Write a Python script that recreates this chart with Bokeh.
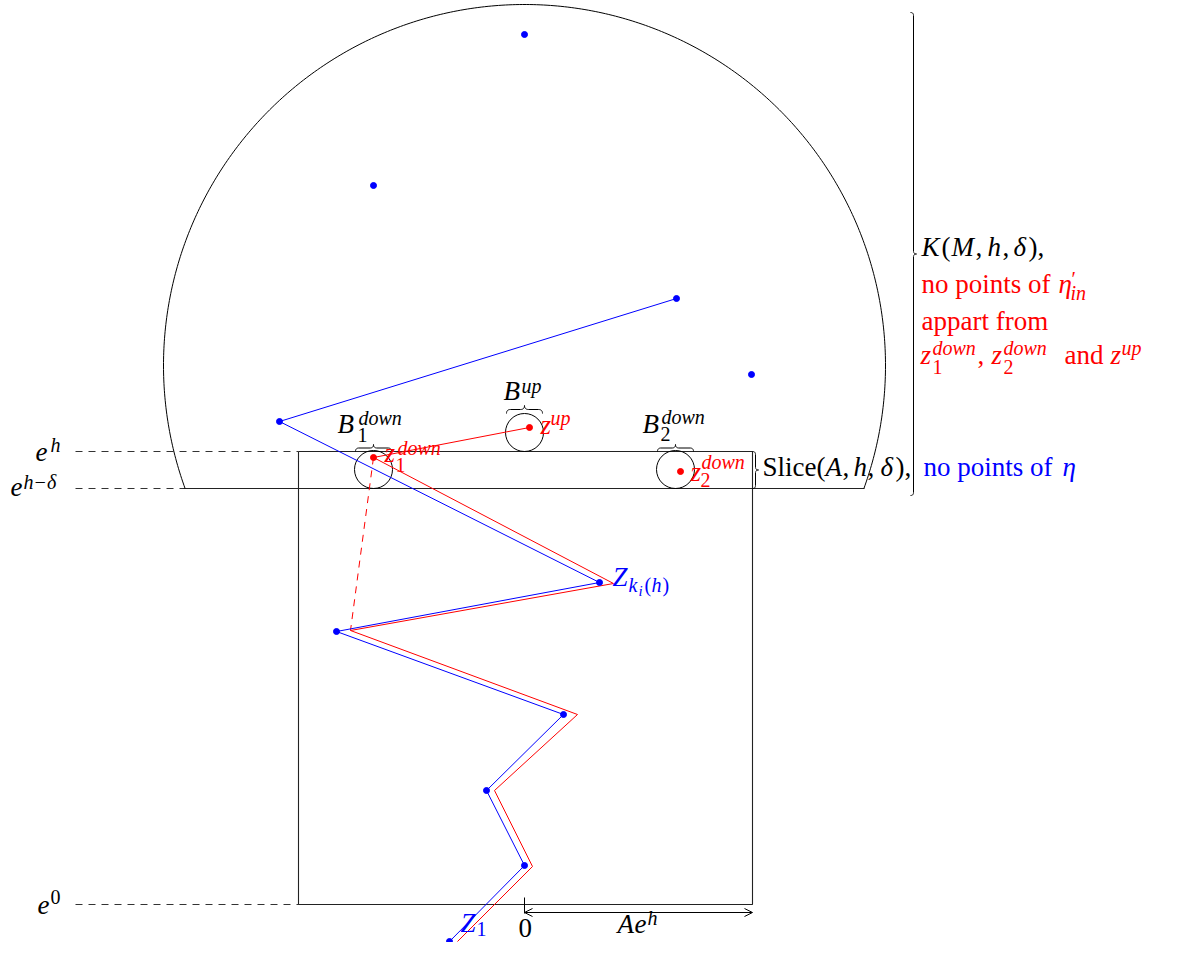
import numpy as np
from bokeh.plotting import figure
from bokeh.models import Range1d, ColumnDataSource, Arrow, OpenHead
from bokeh.core.properties import value
from bokeh.embed import file_html
from bokeh.resources import INLINE

# ---------------- data (image-pixel coordinates, y grows downward) ----------------
# blue path eta (Z_1 ... Z_{k_i(h)} ...)
blue_path_x = [449, 524, 486, 563, 336, 599, 279, 676]
blue_path_y = [941, 865, 790, 714, 631, 582, 421, 298]
# extra blue points of eta inside K
blue_extra_x = [524, 373, 751]
blue_extra_y = [34, 185, 374]
# red path eta'_in
red_path_x = [457, 532, 494, 577, 350, 613, 373, 529]
red_path_y = [941, 866, 790, 714, 630, 583, 457, 427]
red_dash_x = [373, 350]
red_dash_y = [457, 630]
# red points z1_down, z_up, z2_down
red_pts_x = [373, 529, 680]
red_pts_y = [457, 427, 471]
# small balls B1_down, B_up, B2_down
ball_x = [373, 524, 675]
ball_y = [469, 432, 469]
ball_r = 19
# big half disc K(M,h,delta)
arc_cx, arc_cy, arc_r = 524, 365, 361
arc_cut_y = 488
# box [-Ae^h, Ae^h] x [e^0, e^h]
box_x = [298, 752, 752, 298, 298]
box_y = [451, 451, 904, 904, 451]
slice_x = [183, 864]
slice_y = [488, 488]
dash_levels = [451, 488, 904]
dash_x = [75, 298]
tick_x = [524, 524]
tick_y = [897, 913]
arrow_x = [524, 752]
arrow_y = [912, 912]

# braces: (x0, y0, x1, y1, amplitude, normal_x, normal_y)
braces = [
    (355, 451, 391, 451, 7, 0, -1),
    (506, 413, 542, 413, 8, 0, -1),
    (657, 451, 693, 451, 7, 0, -1),
    (752, 451, 752, 488, 6, 1, 0),
    (910, 12, 910, 495, 6, 1, 0),
]

MAIN, SUP, SS = 27, 20, 15
BLACK, RED, BLUE = "#000000", "#ff0000", "#0000ff"
I, N = "italic", "normal"
# text pieces: (text, x-left, baseline-y, size, colour, style)
pieces = [
    ("e", 35, 462, MAIN, BLACK, I), ("h", 50, 452, SUP, BLACK, I),
    ("e", 10, 497, MAIN, BLACK, I), ("h\u2212\u03b4", 23, 489, SUP, BLACK, I),
    ("e", 37, 915, MAIN, BLACK, I), ("0", 50, 904, SUP, BLACK, N),
    ("B", 337, 434, MAIN, BLACK, I), ("down", 358, 425, SUP, BLACK, I), ("1", 357, 442, SUP, BLACK, N),
    ("B", 503, 401, MAIN, BLACK, I), ("up", 521, 393, SUP, BLACK, I),
    ("B", 642, 434, MAIN, BLACK, I), ("down", 661, 424, SUP, BLACK, I), ("2", 660, 441, SUP, BLACK, N),
    ("z", 384, 463, MAIN, RED, I), ("down", 397, 455, SUP, RED, I), ("1", 395, 472, SUP, RED, N),
    ("z", 540, 435, MAIN, RED, I), ("up", 550, 425, SUP, RED, I),
    ("z", 690, 482, MAIN, RED, I), ("down", 701, 469, SUP, RED, I), ("2", 700, 487, SUP, RED, N),
    ("Slice(", 762, 477, MAIN, BLACK, N), ("A", 825, 477, MAIN, BLACK, I), (",", 842, 477, MAIN, BLACK, N),
    ("h", 853, 477, MAIN, BLACK, I), (",", 867, 477, MAIN, BLACK, N), ("\u03b4", 880, 477, MAIN, BLACK, I),
    ("),", 895, 477, MAIN, BLACK, N),
    ("no points of", 923, 477, MAIN, BLUE, N), ("\u03b7", 1062, 477, MAIN, BLUE, I),
    ("K", 921, 257, MAIN, BLACK, I), ("(", 941, 257, MAIN, BLACK, N), ("M", 951, 257, MAIN, BLACK, I),
    (",", 975, 257, MAIN, BLACK, N), ("h", 987, 257, MAIN, BLACK, I), (",", 1002, 257, MAIN, BLACK, N),
    ("\u03b4", 1013, 257, MAIN, BLACK, I), ("),", 1028, 257, MAIN, BLACK, N),
    ("no points of", 921, 294, MAIN, RED, N), ("\u03b7", 1058, 294, MAIN, RED, I),
    ("\u2032", 1071, 286, SUP, RED, N), ("in", 1070, 300, SUP, RED, I),
    ("appart from", 921, 331, MAIN, RED, N),
    ("z", 920, 365, MAIN, RED, I), ("down", 932, 355, SUP, RED, I), ("1", 932, 374, SUP, RED, N),
    (",", 977, 365, MAIN, RED, N),
    ("z", 991, 365, MAIN, RED, I), ("down", 1003, 355, SUP, RED, I), ("2", 1003, 374, SUP, RED, N),
    ("and", 1064, 365, MAIN, RED, N), ("z", 1110, 365, MAIN, RED, I), ("up", 1121, 355, SUP, RED, I),
    ("0", 518, 938, MAIN, BLACK, N),
    ("A", 617, 934, MAIN, BLACK, I), ("e", 634, 934, MAIN, BLACK, I), ("h", 647, 925, SUP, BLACK, I),
    ("Z", 460, 933, MAIN, BLUE, I), ("1", 476, 936, SUP, BLUE, N),
    ("Z", 612, 587, MAIN, BLUE, I), ("k", 628, 592, SUP, BLUE, I), ("i", 638, 596, SS, BLUE, I),
    ("(", 644, 592, SUP, BLUE, N), ("h", 651, 592, SUP, BLUE, I), (")", 662, 592, SUP, BLUE, N),
]
label_text = [q[0] for q in pieces]
label_x = [q[1] for q in pieces]
label_y = [q[2] for q in pieces]
label_size = [q[3] for q in pieces]
label_color = [q[4] for q in pieces]
label_style = [q[5] for q in pieces]

# renderer places the alphabetic baseline about 0.38 em low; compensate
draw_y = [y - 0.38 * s for y, s in zip(label_y, label_size)]
draw_size = ["%dpx" % s for s in label_size]


def brace_points(x0, y0, x1, y1, a, nx, ny, n=14):
    L = np.hypot(x1 - x0, y1 - y0)
    ux, uy = (x1 - x0) / L, (y1 - y0) / L
    t = np.linspace(0, 1, n)

    def quad(p0, p1, p2):
        p0, p1, p2 = map(np.asarray, (p0, p1, p2))
        return ((1 - t)[:, None] ** 2) * p0 + (2 * (1 - t) * t)[:, None] * p1 + (t[:, None] ** 2) * p2

    h = a / 2.0
    segs = [
        quad((0, 0), (0, h), (h, h)),
        quad((L / 2 - h, h), (L / 2, h), (L / 2, a)),
        quad((L / 2, a), (L / 2, h), (L / 2 + h, h)),
        quad((L - h, h), (L, h), (L, 0)),
    ]
    loc = np.vstack(segs)
    X = x0 + loc[:, 0] * ux + loc[:, 1] * nx
    Y = y0 + loc[:, 0] * uy + loc[:, 1] * ny
    return list(X), list(Y)


p = figure(width=1164, height=942, x_range=Range1d(0, 1164), y_range=Range1d(942, 0),
           output_backend="svg", toolbar_location=None, min_border=0,
           x_axis_location=None, y_axis_location=None)
p.grid.visible = False
p.outline_line_color = None
p.background_fill_color = "white"

LINE = "#222222"
# dashed level lines
for yl in dash_levels:
    p.line(dash_x, [yl, yl], line_color="#333333", line_width=1, line_dash="7 6")
# box and slice
p.line(box_x, box_y, line_color=LINE, line_width=1.1)
p.line(slice_x, slice_y, line_color=LINE, line_width=1.1)
# big arc
th0 = np.arcsin(-(arc_cut_y - arc_cy) / arc_r)
th = np.linspace(th0, np.pi - th0, 400)
p.line(list(arc_cx + arc_r * np.cos(th)), list(arc_cy - arc_r * np.sin(th)), line_color="black", line_width=1)
# small balls
p.circle(x=ball_x, y=ball_y, radius=ball_r, fill_color=None, line_color="black", line_width=1)
# braces
for b in braces:
    bx, by = brace_points(*b)
    p.line(bx, by, line_color="black", line_width=1)
# tick and arrow
p.line(tick_x, tick_y, line_color="black", line_width=1)
p.add_layout(Arrow(start=OpenHead(size=8, line_width=1), end=OpenHead(size=8, line_width=1),
                   x_start=arrow_x[0], y_start=arrow_y[0], x_end=arrow_x[1], y_end=arrow_y[1],
                   line_width=1, line_color="black"))
# paths
p.line(red_path_x, red_path_y, line_color=RED, line_width=1)
p.line(red_dash_x, red_dash_y, line_color=RED, line_width=1, line_dash="7 6")
p.line(blue_path_x, blue_path_y, line_color=BLUE, line_width=1)
# points
p.scatter(blue_path_x, blue_path_y, size=6, color=BLUE)
p.scatter(blue_extra_x, blue_extra_y, size=6, color=BLUE)
p.scatter(red_pts_x, red_pts_y, size=6, color=RED)

src = ColumnDataSource(dict(x=label_x, y=draw_y, text=label_text, size=draw_size,
                            color=label_color, style=label_style))
p.text(x="x", y="y", text="text", source=src, text_font=value("Liberation Serif"),
       text_font_size="size", text_color="color", text_font_style="style",
       text_align="left", text_baseline="alphabetic")

open("out.html", "w").write(file_html(p, INLINE))
